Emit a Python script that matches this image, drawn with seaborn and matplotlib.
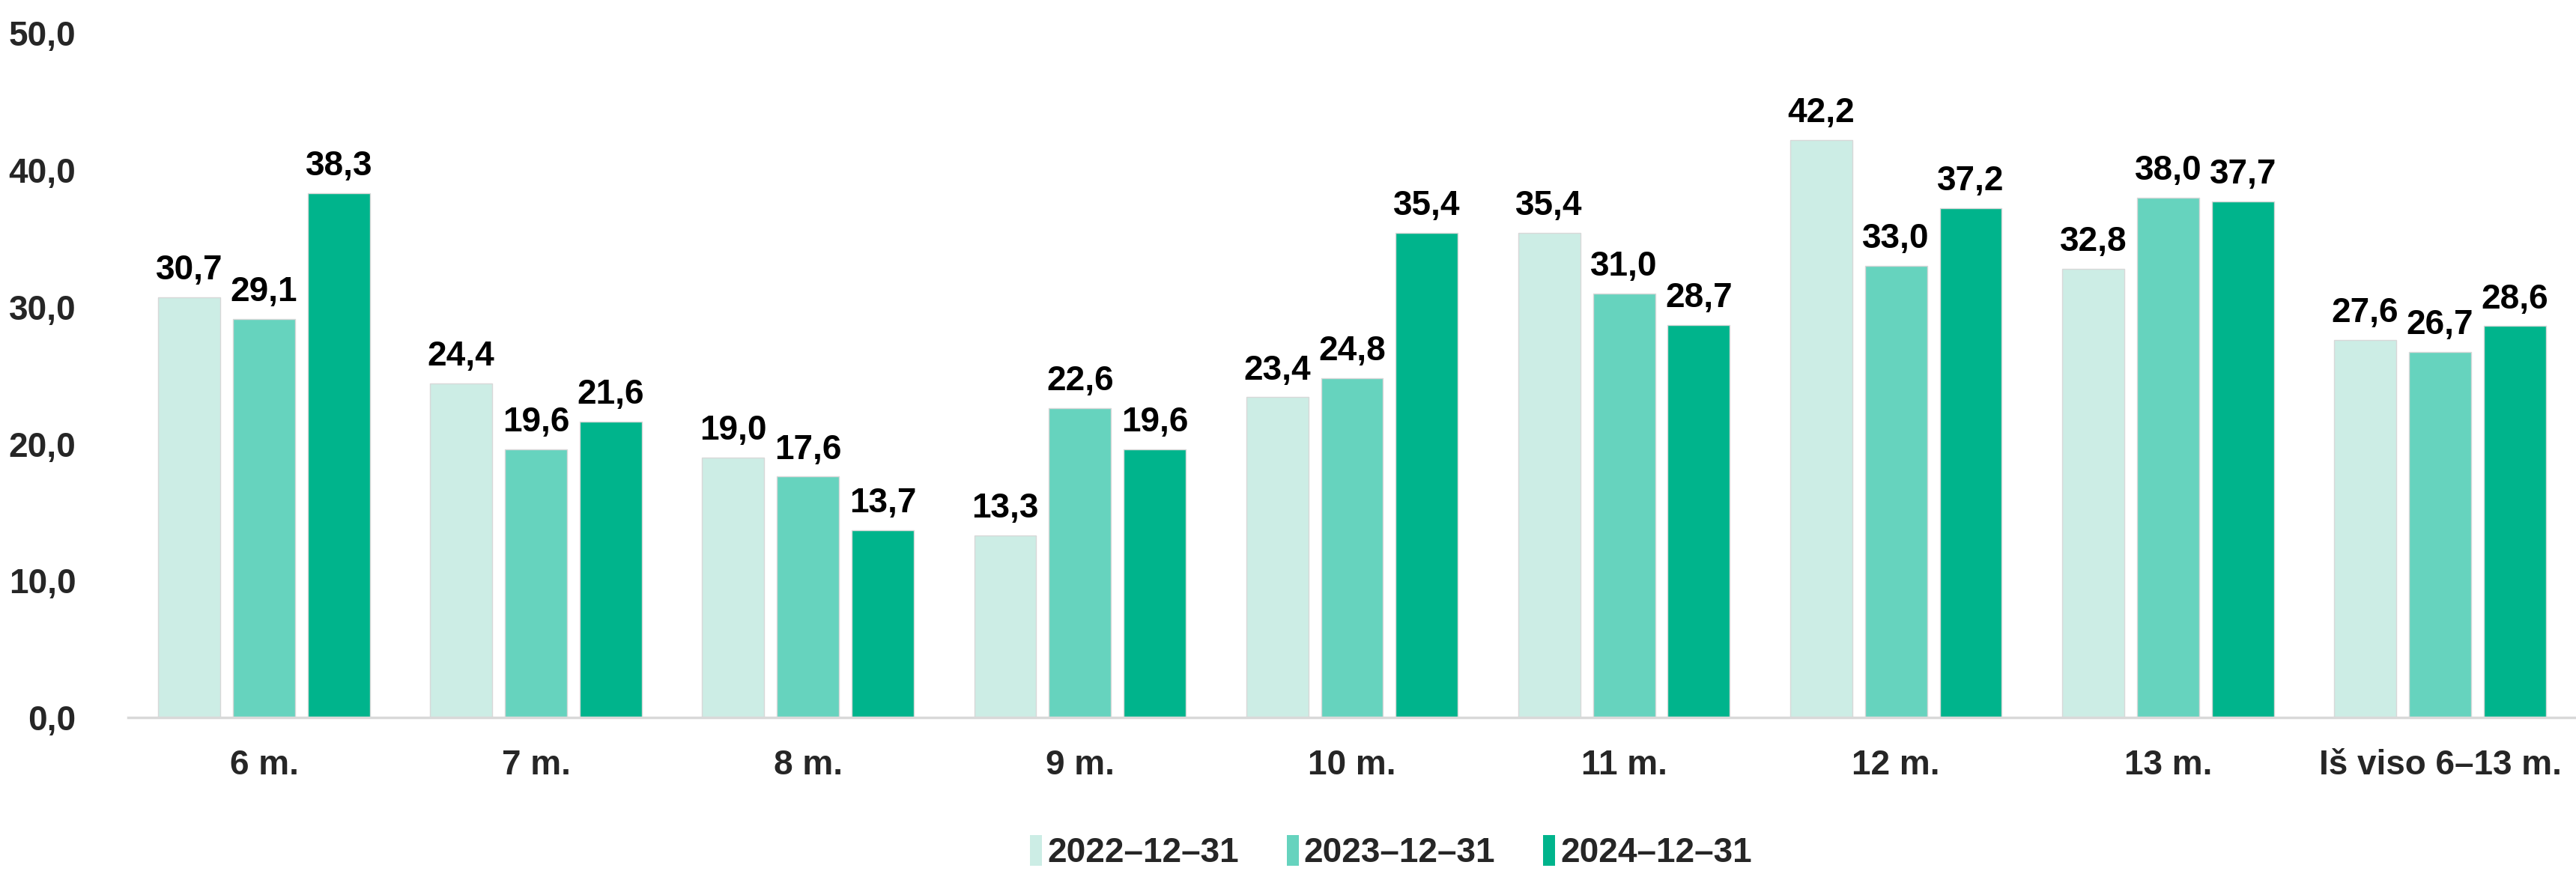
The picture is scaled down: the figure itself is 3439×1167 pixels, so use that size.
import pandas as pd
import seaborn as sns
import matplotlib.pyplot as plt
from matplotlib.patches import Patch

categories = ["6 m.", "7 m.", "8 m.", "9 m.", "10 m.", "11 m.", "12 m.", "13 m.", "Iš viso 6–13 m."]
series_names = ["2022–12–31", "2023–12–31", "2024–12–31"]
v2022 = [30.7, 24.4, 19.0, 13.3, 23.4, 35.4, 42.2, 32.8, 27.6]
v2023 = [29.1, 19.6, 17.6, 22.6, 24.8, 31.0, 33.0, 38.0, 26.7]
v2024 = [38.3, 21.6, 13.7, 19.6, 35.4, 28.7, 37.2, 37.7, 28.6]
colors = ["#CCEDE5", "#66D3BE", "#00B48C"]

df = pd.DataFrame({
    "cat": categories * 3,
    "year": [series_names[0]] * 9 + [series_names[1]] * 9 + [series_names[2]] * 9,
    "val": v2022 + v2023 + v2024,
})

sns.set_theme(style="white")
plt.rcParams['font.family'] = ['Liberation Sans Narrow', 'Liberation Sans', 'DejaVu Sans']
plt.rcParams['font.weight'] = 'bold'

fig = plt.figure(figsize=(34.39, 11.67), dpi=100)
ax = fig.add_axes([0.0497, 0.179, 0.9503, 0.783])

sns.barplot(data=df, x="cat", y="val", hue="year", palette=colors, saturation=1,
            width=0.825, gap=0.17, ax=ax, legend=False,
            edgecolor="#d8d8d8", linewidth=1.0)

fs = 33
for cont in ax.containers:
    ax.bar_label(cont, labels=[f"{v:.1f}".replace(".", ",") for v in cont.datavalues],
                 padding=10, fontsize=fs, fontweight="bold", color="black")

ax.set_ylim(0, 50)
ax.set_xlim(-0.5, 8.5)
ax.set_yticks([0, 10, 20, 30, 40, 50])
ax.set_yticklabels([f"{t:.1f}".replace(".", ",") for t in [0, 10, 20, 30, 40, 50]])
ax.tick_params(axis="y", labelsize=fs, pad=50, length=0)
ax.tick_params(axis="x", labelsize=fs, pad=30, length=0)
for lab in ax.get_xticklabels() + ax.get_yticklabels():
    lab.set_fontweight("bold")
ax.set_xlabel("")
ax.set_ylabel("")
for s in ["top", "right", "left"]:
    ax.spines[s].set_visible(False)
ax.spines["bottom"].set_color("#d9d9d9")
ax.spines["bottom"].set_linewidth(2.5)

handles = [Patch(facecolor=c, edgecolor="none") for c in colors]
fig.legend(handles, series_names, loc="center", bbox_to_anchor=(0.54, 0.025), ncol=3,
           frameon=False, prop={"size": fs, "weight": "bold"},
           handlelength=0.35, handleheight=1.0, handletextpad=0.15, columnspacing=1.4)

fig.savefig("out.png", dpi=100)
